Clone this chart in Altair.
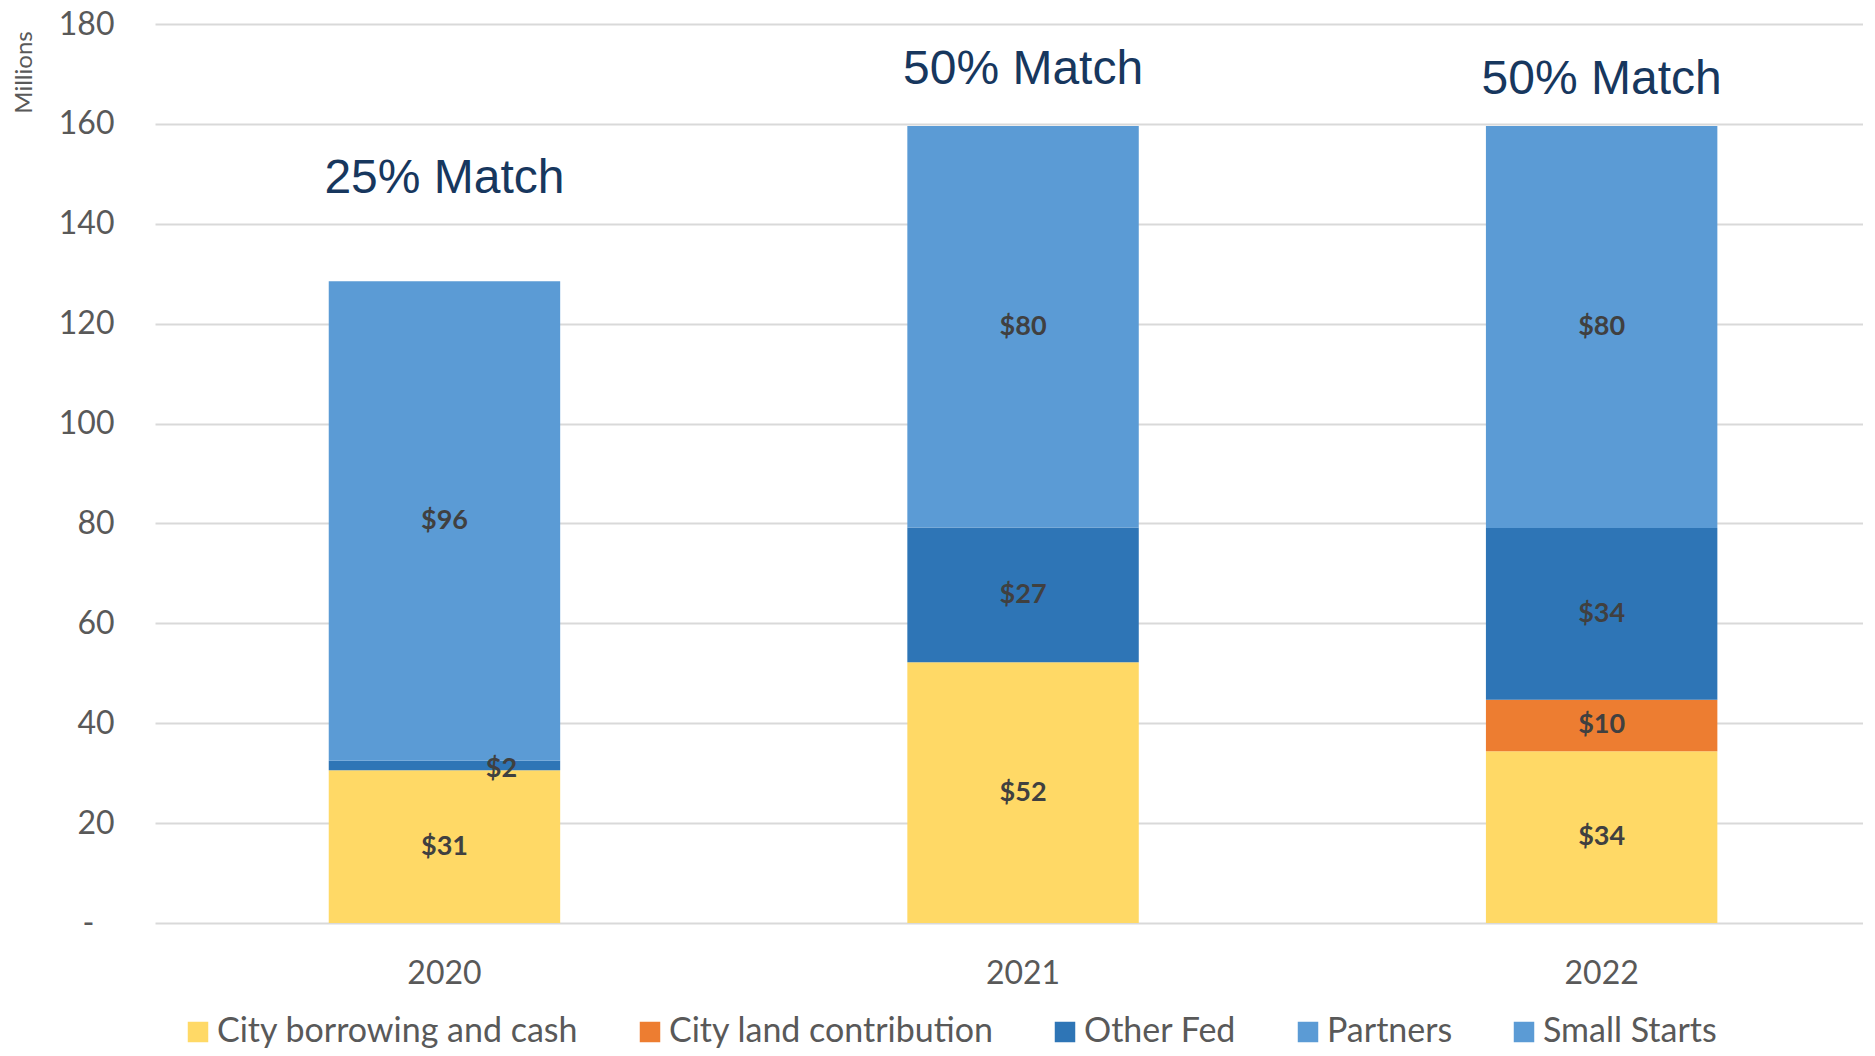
import altair as alt
import pandas as pd

years = ["2020", "2021", "2022"]
series = ["City borrowing and cash", "City land contribution", "Other Fed", "Partners", "Small Starts"]
colors = ["#FFD966", "#ED7D31", "#2E75B6", "#5B9BD5", "#5B9BD5"]

city_borrowing = [30.6, 52.2, 34.4]
city_land = [0.0, 0.0, 10.3]
other_fed = [1.9, 27.0, 34.4]
partners = [0.0, 0.0, 0.0]
small_starts = [96.0, 80.4, 80.49]

match_labels = ["25% Match", "50% Match", "50% Match"]
match_y = [146.2, 168.0, 165.9]

y_ticks = [0, 20, 40, 60, 80, 100, 120, 140, 160, 180]

values_by_series = [city_borrowing, city_land, other_fed, partners, small_starts]
rows = []
for si, (name, vals) in enumerate(zip(series, values_by_series)):
    for yi, yr in enumerate(years):
        rows.append({"year": yr, "series": name, "idx": si, "value": vals[yi]})
df = pd.DataFrame(rows)
ann = pd.DataFrame({"year": years, "label": match_labels, "y": match_y})

FONT = "Lato"
GREY = "#595959"

xenc = alt.X(
    "year:N",
    scale=alt.Scale(paddingInner=0.6, paddingOuter=0.276, align=0.544),
    axis=alt.Axis(title=None, labelAngle=0, domain=False, ticks=False, grid=False,
                  labelFont=FONT, labelFontSize=32, labelColor=GREY, labelPadding=35),
)

yaxis = alt.Axis(
    values=y_ticks, title="Millions", domain=False, ticks=False,
    labelExpr="datum.value == 0 ? '-' : datum.label",
    labelFont=FONT, labelFontSize=32, labelColor=GREY,
    labelPadding={"condition": {"test": "datum.value == 0", "value": 61}, "value": 41},
    gridColor="#D9D9D9", gridWidth=2,
    titleFont=FONT, titleFontSize=24, titleColor=GREY, titleFontWeight="normal",
    titleAngle=270, titleX=-131, titleY=48, titleAlign="center", titleBaseline="middle",
)
yscale = alt.Scale(domain=[0, 180], nice=False, zero=True)

base = alt.Chart(df).transform_stack(
    stack="value", groupby=["year"], as_=["y0", "y1"],
    sort=[alt.SortField("idx", order="ascending")],
).transform_calculate(mid="(datum.y0 + datum.y1) / 2")

bars = base.mark_bar().encode(
    x=xenc,
    y=alt.Y("y0:Q", scale=yscale, axis=yaxis),
    y2="y1:Q",
    color=alt.Color(
        "series:N",
        scale=alt.Scale(domain=series, range=colors),
        legend=alt.Legend(
            title=None, orient="none", direction="horizontal",
            legendX=26, legendY=991,
            symbolType="square", symbolSize=420, symbolStrokeWidth=0,
            labelFont=FONT, labelFontSize=34, labelColor=GREY,
            labelOffset=2, columnPadding=54, labelLimit=0,
        ),
    ),
)

labels = base.transform_filter("datum.value >= 3").mark_text(
    font=FONT, fontWeight="bold", fontSize=27, color="#404040", baseline="middle"
).encode(
    x=xenc,
    y=alt.Y("mid:Q", scale=yscale, axis=yaxis),
    text=alt.Text("value:Q", format="$.0f"),
)

small_labels = base.transform_filter("datum.value > 0 && datum.value < 3").mark_text(
    font=FONT, fontWeight="bold", fontSize=27, color="#404040", baseline="middle", dx=57, dy=4
).encode(
    x=xenc,
    y=alt.Y("mid:Q", scale=yscale, axis=yaxis),
    text=alt.Text("value:Q", format="$.0f"),
)

match = alt.Chart(ann).mark_text(
    font="Liberation Sans", fontSize=48, color="#17375E", baseline="alphabetic", align="center"
).encode(
    x=xenc,
    y=alt.Y("y:Q", scale=yscale, axis=yaxis),
    text="label:N",
)

chart = alt.layer(bars, labels, small_labels, match).properties(
    width=1708, height=899,
    autosize=alt.AutoSizeParams(type="none"),
    padding={"left": 147, "top": 16, "right": 0, "bottom": 125},
    background="white",
).configure_view(stroke=None)

chart.save("out.html", embed_options={"renderer": "svg", "actions": False})
